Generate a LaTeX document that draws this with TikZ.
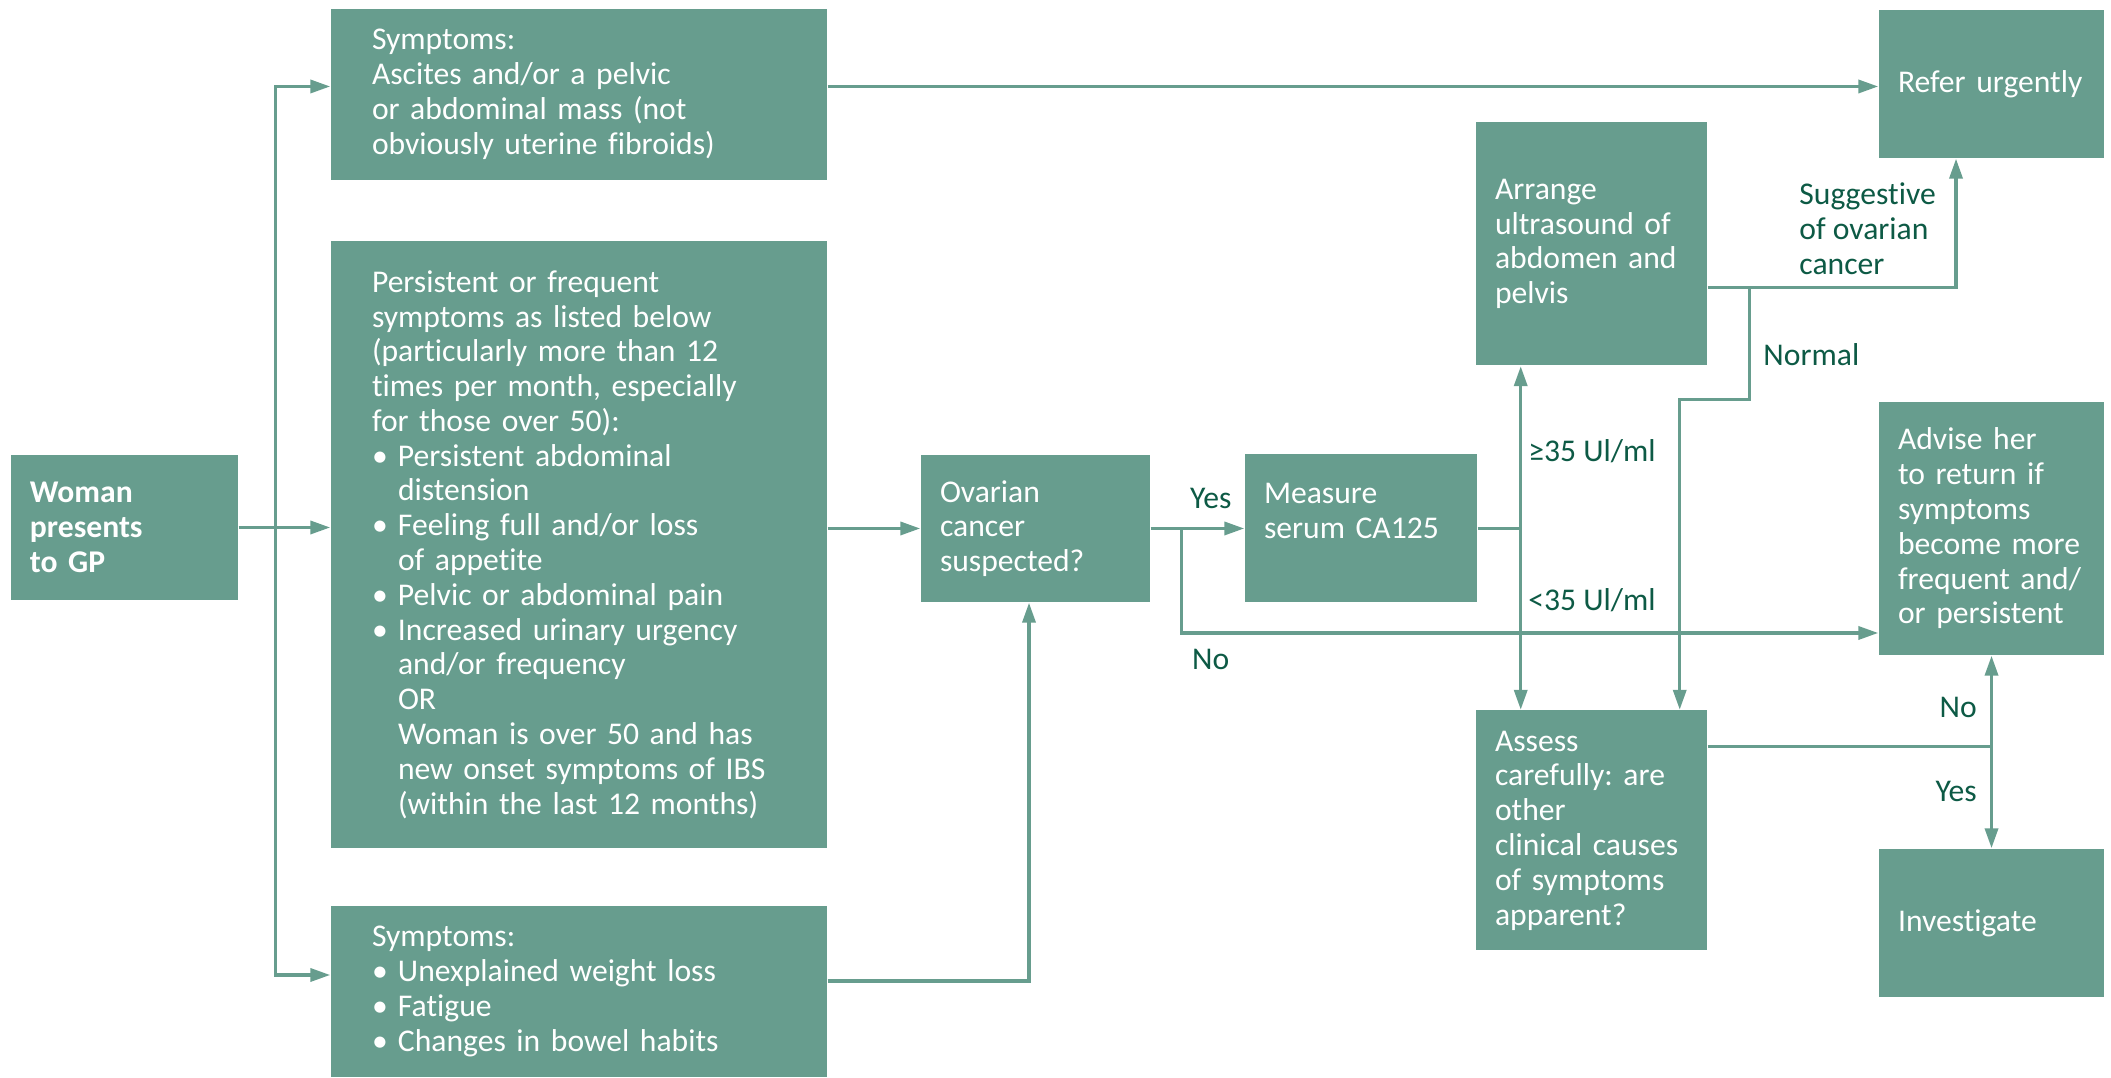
\documentclass[tikz,border=0pt]{standalone}
\usepackage{fontspec}
\setmainfont{Carlito}[Ligatures=NoCommon]
\usepackage{tikz}
\usetikzlibrary{shapes, arrows.meta, positioning}
\frenchspacing

\definecolor{boxgreen}{HTML}{679D8E}
\definecolor{labelgreen}{HTML}{0D5A45}

\tikzstyle{gbox} = [rectangle, fill=boxgreen, text=white, align=left, inner xsep=0.19cm, inner ysep=0pt, font=\fontsize{9}{9.9}\selectfont]
\tikzstyle{widebox} = [gbox, inner xsep=0.41cm, text width=4.14cm]
\tikzstyle{link} = [draw=boxgreen, line width=1pt]
\tikzstyle{arrow} = [link, -{Triangle[length=2mm, width=1.3mm]}]
\tikzstyle{lbl} = [text=labelgreen, inner sep=0pt, align=left, font=\fontsize{9}{9.9}\selectfont]

\newcommand{\bul}{\makebox[0.26cm][l]{\textbullet}}
\newcommand{\ind}{\hspace*{0.26cm}}

\begin{document}
\begin{tikzpicture}[node distance=1cm]
    \useasboundingbox (-1.245,5.275) rectangle (19.865,-5.505);

    % Entry
    \node (woman) [gbox, text width=1.89cm, minimum height=1.45cm, font=\fontsize{9}{9.9}\selectfont\bfseries] {Woman\\presents\\to GP};

    % Symptoms
    \node (symB) [widebox, minimum height=6.07cm, right of=woman, xshift=3.545cm, yshift=-0.17cm] {Persistent or frequent\\
        symptoms as listed below\\
        (particularly more than 12\\
        times per month, especially\\
        for those over 50):\\
        \bul Persistent abdominal\\
        \ind distension\\
        \bul Feeling full and/or loss\\
        \ind of appetite\\
        \bul Pelvic or abdominal pain\\
        \bul Increased urinary urgency\\
        \ind and/or frequency\\
        \ind OR\\
        \ind Woman is over 50 and has\\
        \ind new onset symptoms of IBS\\
        \ind (within the last 12 months)};
    \node (symA) [widebox, minimum height=1.71cm, above of=symB, yshift=3.5cm] {Symptoms:\\Ascites and/or a pelvic\\or abdominal mass (not\\obviously uterine fibroids)};
    \node (symC) [widebox, minimum height=1.71cm, below of=symB, yshift=-3.47cm] {Symptoms:\\\bul Unexplained weight loss\\\bul Fatigue\\\bul Changes in bowel habits};

    % Tests
    \node (ovarian) [gbox, text width=1.91cm, minimum height=1.47cm, right of=symB, xshift=3.565cm, yshift=0.16cm] {Ovarian\\cancer\\suspected?};
    \node (measure) [gbox, text width=1.94cm, minimum height=1.48cm, right of=ovarian, xshift=2.255cm] {Measure\\serum CA125\\\mbox{}};
    \node (arrange) [gbox, text width=1.93cm, minimum height=2.43cm, right of=measure, xshift=1.305cm, yshift=2.845cm] {Arrange\\ultrasound of\\abdomen and\\pelvis};
    \node (assess) [gbox, text width=1.93cm, minimum height=2.40cm, below of=arrange, yshift=-4.865cm] {Assess\\carefully: are\\other\\clinical causes\\of symptoms\\apparent?};

    % Outcomes
    \node (advise) [gbox, text width=1.87cm, minimum height=2.53cm, right of=measure, xshift=5.305cm] {Advise her\\to return if\\symptoms\\become more\\frequent and/\\or persistent};
    \node (refer) [gbox, text width=1.87cm, minimum height=1.48cm, above of=advise, yshift=3.445cm] {Refer urgently};
    \node (investigate) [gbox, text width=1.87cm, minimum height=1.48cm, below of=advise, yshift=-2.945cm] {Investigate};

    % Arrows
    \draw [arrow] (woman.east) -- (woman.east -| symB.west);
    \coordinate (split) at ([xshift=0.37cm]woman.east);
    \draw [arrow] (split) |- ([yshift=0.08cm]symA.west);
    \draw [arrow] (split) |- ([yshift=0.165cm]symC.west);
    \coordinate (aout) at ([yshift=0.08cm]symA.east);
    \draw [arrow] (aout) -- (aout -| refer.west);
    \draw [arrow] (ovarian.west -| symB.east) -- (ovarian.west);
    \draw [arrow] ([yshift=0.105cm]symC.east) -| ([xshift=-0.065cm]ovarian.south);

    \draw [arrow] (ovarian.east) -- (measure.west);
    \coordinate (nosplit) at ([xshift=0.31cm]ovarian.east);
    \draw [arrow] (nosplit) |- ([yshift=-1.045cm]advise.west);

    \coordinate (cajunc) at ([xshift=0.43cm]measure.east);
    \draw [link] (measure.east) -- (cajunc);
    \draw [arrow] (cajunc) -- (cajunc |- arrange.south);
    \draw [arrow] (cajunc) -- (cajunc |- assess.north);

    \coordinate (arout) at ([yshift=-0.435cm]arrange.east);
    \coordinate (usjunc) at ([xshift=0.42cm]arout);
    \draw [arrow] (arout) -| ([xshift=-0.355cm]refer.south);
    \draw [arrow] (usjunc) -- ++(0,-1.12) -| ([xshift=-0.28cm]assess.north east);

    \coordinate (asout) at ([yshift=0.84cm]assess.east);
    \coordinate (asjunc) at (asout -| advise.south);
    \draw [link] (asout) -- (asjunc);
    \draw [arrow] (asjunc) -- (advise.south);
    \draw [arrow] (asjunc) -- (investigate.north);

    % Labels
    \node (yes1) [lbl] at ([xshift=0.6cm, yshift=0.3cm]ovarian.east) {Yes};
    \node (no1) [lbl] at ([xshift=0.6cm, yshift=-1.305cm]ovarian.east) {No};
    \node (hi35) [lbl, anchor=west] at ([xshift=0.07cm, yshift=0.77cm]cajunc) {≥35 Ul/ml};
    \node (lo35) [lbl, anchor=west] at ([xshift=0.07cm, yshift=-0.72cm]cajunc) {<35 Ul/ml};
    \node (suggest) [lbl, anchor=west] at ([xshift=0.91cm, yshift=0.155cm]arrange.east) {Suggestive\\of ovarian\\cancer};
    \node (normal) [lbl, anchor=west] at ([xshift=0.13cm, yshift=-0.67cm]usjunc) {Normal};
    \node (no2) [lbl, anchor=east] at ([xshift=-0.14cm, yshift=0.39cm]asjunc) {No};
    \node (yes2) [lbl, anchor=east] at ([xshift=-0.14cm, yshift=-0.45cm]asjunc) {Yes};

\end{tikzpicture}
\end{document}
